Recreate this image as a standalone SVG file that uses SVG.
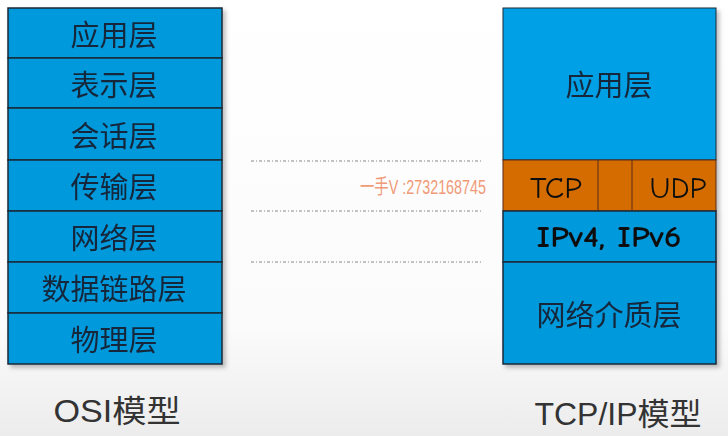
<svg xmlns="http://www.w3.org/2000/svg" width="728" height="436" viewBox="0 0 728 436">
<defs>
<linearGradient id="bg" x1="0" y1="0" x2="0" y2="1">
<stop offset="0" stop-color="#ffffff"/>
<stop offset="0.75" stop-color="#fbfbfb"/>
<stop offset="1" stop-color="#ececec"/>
</linearGradient>
<filter id="sh" x="-5%" y="-5%" width="115%" height="115%">
<feDropShadow dx="3" dy="3" stdDeviation="2" flood-color="#000" flood-opacity="0.25"/>
</filter>
</defs>
<style>
.osi{fill:#0099dc;stroke:#1b2a3a;stroke-width:1.5}
.app{fill:#00a0e6;stroke:#1b2a3a;stroke-width:1}
.blue{fill:#0099dc;stroke:#1b2a3a;stroke-width:1.5}
.org{fill:#d46c00;stroke:#5a2a10;stroke-width:1}
.cn{font-family:"Noto Sans CJK SC",sans-serif;font-size:29px;fill:#14263a;text-anchor:middle;dominant-baseline:central}
.en{font-family:"Comic Neue","Liberation Sans",sans-serif;font-size:31px;fill:#111;text-anchor:middle;dominant-baseline:central}
.cap{font-family:"Liberation Sans","Noto Sans CJK SC",sans-serif;font-size:31px;fill:#333;text-anchor:middle;dominant-baseline:central}
.dash{stroke:#888;stroke-width:1;stroke-dasharray:3 2 1 2;fill:none}
</style>
<rect width="728" height="436" fill="url(#bg)"/>
<g id="osi" filter="url(#sh)">
<g id="osi-app"><rect class="osi" x="8" y="8" width="214" height="50"/><text class="cn" x="114" y="33">应用层</text></g>
<g id="osi-pres"><rect class="osi" x="8" y="58" width="214" height="50"/><text class="cn" x="114" y="83">表示层</text></g>
<g id="osi-sess"><rect class="osi" x="8" y="108" width="214" height="52"/><text class="cn" x="114" y="134">会话层</text></g>
<g id="osi-trans"><rect class="osi" x="8" y="160" width="214" height="51"/><text class="cn" x="114" y="185">传输层</text></g>
<g id="osi-net"><rect class="osi" x="8" y="211" width="214" height="51"/><text class="cn" x="114" y="236">网络层</text></g>
<g id="osi-link"><rect class="osi" x="8" y="262" width="214" height="51"/><text class="cn" x="114" y="287">数据链路层</text></g>
<g id="osi-phys"><rect class="osi" x="8" y="313" width="214" height="51"/><text class="cn" x="114" y="338">物理层</text></g>
</g>
<g id="tcpip" filter="url(#sh)">
<g id="tcp-app"><rect class="app" x="503" y="8" width="213" height="152"/><text class="cn" x="609" y="83">应用层</text></g>
<g id="tcp-trans"><rect class="org" x="503" y="160" width="213" height="51"/>
<line x1="598" y1="160" x2="598" y2="211" stroke="#5a2a10" stroke-width="1"/>
<line x1="632" y1="160" x2="632" y2="211" stroke="#5a2a10" stroke-width="1"/>
<text class="en" x="556" y="188" textLength="52" lengthAdjust="spacingAndGlyphs">TCP</text><text class="en" x="678" y="188" textLength="57" lengthAdjust="spacingAndGlyphs">UDP</text></g>
<g id="tcp-ip"><rect class="blue" x="503" y="211" width="213" height="51"/><text class="en" x="609" y="237" font-size="27" font-weight="bold" textLength="145" lengthAdjust="spacingAndGlyphs">IPv4, IPv6</text></g>
<g id="tcp-media"><rect class="blue" x="503" y="262" width="213" height="102"/><text class="cn" x="609" y="313">网络介质层</text></g>
</g>
<g id="connectors">
<line class="dash" x1="251" y1="161" x2="482" y2="161"/>
<line class="dash" x1="251" y1="211" x2="482" y2="211"/>
<line class="dash" x1="251" y1="262" x2="482" y2="262"/>
</g>
<text x="360" y="187" font-family="Liberation Sans Narrow,Liberation Sans,Noto Sans CJK SC,sans-serif" font-size="20" fill="#f09a78" dominant-baseline="central" textLength="126" lengthAdjust="spacingAndGlyphs">一手V :2732168745</text>
<text class="cap" x="117" y="411" textLength="127" lengthAdjust="spacingAndGlyphs">OSI模型</text>
<text class="cap" x="618" y="414" textLength="167" lengthAdjust="spacingAndGlyphs">TCP/IP模型</text>
</svg>
